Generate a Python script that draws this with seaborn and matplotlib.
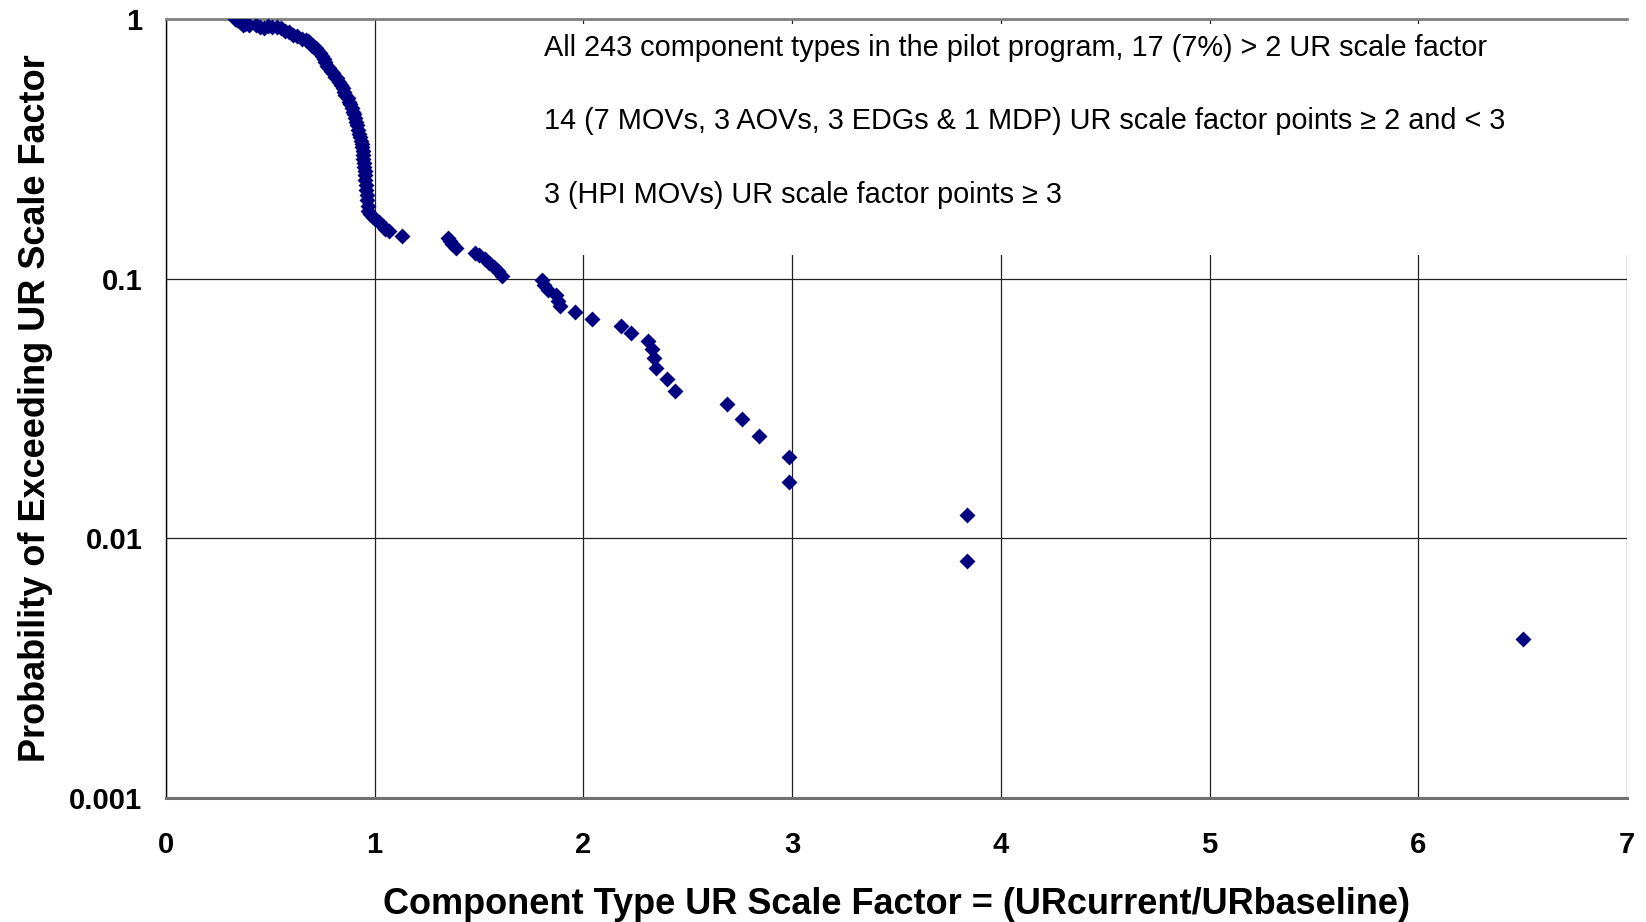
import matplotlib
matplotlib.use("Agg")
import matplotlib.pyplot as plt
import matplotlib.patches as mpatches
from matplotlib.ticker import FixedLocator, FixedFormatter
import seaborn as sns
import pandas as pd

# Dense part of the exceedance curve
dense_x = [0.33, 0.34, 0.35, 0.36, 0.37, 0.38, 0.40, 0.43, 0.45, 0.47, 0.49, 0.51, 0.53, 0.55,
           0.57, 0.59, 0.61, 0.63, 0.65, 0.67, 0.68, 0.69, 0.70, 0.71, 0.72, 0.73, 0.74, 0.75,
           0.755, 0.76, 0.77, 0.78, 0.79, 0.80, 0.81, 0.82, 0.83, 0.84, 0.85, 0.855, 0.86, 0.87,
           0.875, 0.88, 0.89, 0.895, 0.90, 0.905, 0.91, 0.915, 0.92, 0.925, 0.93, 0.935, 0.937,
           0.94, 0.942, 0.944, 0.946, 0.948, 0.95, 0.952, 0.954, 0.955, 0.957, 0.96, 0.962, 0.964,
           0.966, 0.968, 0.98, 0.99, 1.00, 1.02, 1.04, 1.05, 1.07, 1.13]
dense_y = [1.00, 0.99, 0.98, 0.97, 0.95, 0.96, 0.95, 0.95, 0.93, 0.92, 0.94, 0.93, 0.93, 0.92,
           0.90, 0.89, 0.87, 0.86, 0.84, 0.83, 0.82, 0.81, 0.79, 0.78, 0.77, 0.75, 0.74, 0.72,
           0.70, 0.68, 0.66, 0.65, 0.63, 0.62, 0.60, 0.59, 0.57, 0.555, 0.54, 0.525, 0.51, 0.495,
           0.48, 0.47, 0.455, 0.44, 0.43, 0.415, 0.40, 0.39, 0.375, 0.36, 0.35, 0.34, 0.33,
           0.32, 0.31, 0.30, 0.29, 0.28, 0.27, 0.26, 0.25, 0.24, 0.23, 0.22, 0.21, 0.20,
           0.19, 0.183, 0.177, 0.173, 0.169, 0.165, 0.160, 0.156, 0.152, 0.146]

# Middle section
mid_x = [1.35, 1.36, 1.37, 1.39, 1.48, 1.50, 1.53, 1.55, 1.57, 1.59, 1.61]
mid_y = [0.144, 0.140, 0.136, 0.131, 0.126, 0.123, 0.119, 0.115, 0.111, 0.107, 0.102]

# Tail (below 0.1)
tail_x = [1.80, 1.81, 1.83, 1.87, 1.88, 1.89, 1.96, 2.04, 2.18, 2.23, 2.31, 2.33, 2.34, 2.35,
          2.40, 2.44, 2.69, 2.76, 2.84, 2.985, 2.985, 3.84, 3.84, 6.50]
tail_y = [0.0988, 0.0947, 0.0905, 0.0864, 0.0823, 0.0782, 0.0741, 0.0700, 0.0658, 0.0617,
          0.0576, 0.0535, 0.0494, 0.0453, 0.0412, 0.0370, 0.0329, 0.0288, 0.0247, 0.0206,
          0.0165, 0.0123, 0.0082, 0.0041]

x_ticks = [0, 1, 2, 3, 4, 5, 6, 7]
y_ticks = [0.001, 0.01, 0.1, 1]
y_tick_labels = ["0.001", "0.01", "0.1", "1"]

notes = [
    "All 243 component types in the pilot program, 17 (7%) > 2 UR scale factor",
    "14 (7 MOVs, 3 AOVs, 3 EDGs & 1 MDP) UR scale factor points \u2265 2 and < 3",
    "3 (HPI MOVs) UR scale factor points \u2265 3",
]

df = pd.DataFrame({"x": dense_x + mid_x + tail_x, "y": dense_y + mid_y + tail_y})

sns.set_style("white")
plt.rcParams["font.family"] = ["Liberation Sans", "DejaVu Sans"]

fig = plt.figure(figsize=(16.46, 9.22), dpi=100)
ax = fig.add_axes([0.1008, 0.1345, 0.8877, 0.8449])

ax.set_yscale("log")
ax.set_xlim(0, 7)
ax.set_ylim(0.001, 1)
ax.set_axisbelow(True)
ax.grid(True, which="major", color="#222222", linewidth=0.9)
ax.grid(False, which="minor")

# white box behind the notes, hiding gridlines
rect = mpatches.Rectangle((1.6, 0.697), 5.45, 0.296, transform=ax.get_xaxis_transform(),
                          facecolor="white", edgecolor="none", zorder=1)
ax.add_patch(rect)

sns.scatterplot(data=df, x="x", y="y", ax=ax, marker="D", s=66, color="#000080",
                edgecolor="#000080", linewidth=0, zorder=3, legend=False)

ax.xaxis.set_major_locator(FixedLocator(x_ticks))
ax.yaxis.set_major_locator(FixedLocator(y_ticks))
ax.yaxis.set_major_formatter(FixedFormatter(y_tick_labels))
ax.yaxis.set_minor_locator(FixedLocator([]))
ax.tick_params(axis="x", direction="out", length=7, width=0.9, color="#222222", pad=17,
               labelsize=21, labelcolor="black")
ax.tick_params(axis="y", direction="out", length=5, width=0.9, color="#222222", pad=12,
               labelsize=21, labelcolor="black")
for lab in ax.get_xticklabels() + ax.get_yticklabels():
    lab.set_fontweight("bold")

ax.spines["right"].set_visible(False)
ax.spines["left"].set_color("black")
ax.spines["left"].set_linewidth(1.0)
ax.spines["bottom"].set_color("#707070")
ax.spines["bottom"].set_linewidth(2.2)
ax.spines["top"].set_color("#808080")
ax.spines["top"].set_linewidth(2.0)

ax.set_xlabel("Component Type UR Scale Factor = (URcurrent/URbaseline)", fontsize=26,
              fontweight="bold", labelpad=20, color="black")
ax.set_ylabel("Probability of Exceeding UR Scale Factor", fontsize=26,
              fontweight="bold", labelpad=12, color="black")

for yy, txt in zip([0.963, 0.869, 0.774], notes):
    ax.text(1.81, yy, txt, transform=ax.get_xaxis_transform(), fontsize=20.8,
            va="center", ha="left", color="black", zorder=4)

fig.savefig("out.png", dpi=100)
